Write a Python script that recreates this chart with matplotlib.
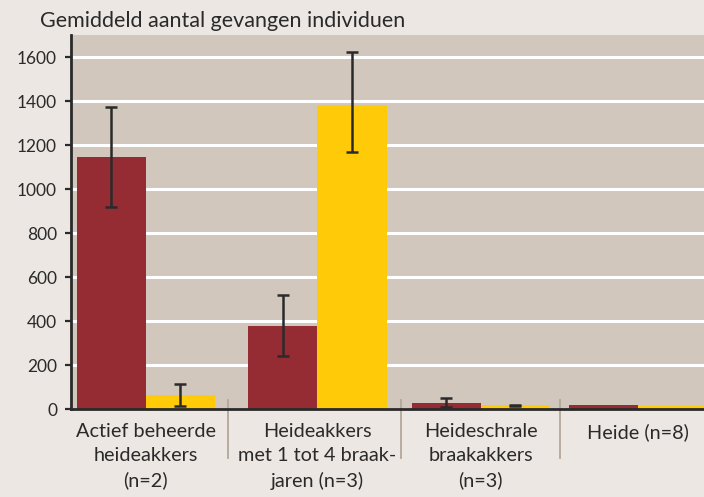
import matplotlib
matplotlib.use("Agg")
import matplotlib.pyplot as plt
import numpy as np

plt.rcParams["font.family"] = ["Lato", "DejaVu Sans"]

# data
categories = [
    "Actief beheerde\nheideakkers\n(n=2)",
    "Heideakkers\nmet 1 tot 4 braak-\njaren (n=3)",
    "Heideschrale\nbraakakkers\n(n=3)",
    "Heide (n=8)",
]
red_values = [1144, 380, 28, 20]
red_err_low = [224, 137, 18, np.nan]
red_err_high = [231, 138, 22, np.nan]
yellow_values = [63, 1384, 18, 16]
yellow_err_low = [50, 217, 1, np.nan]
yellow_err_high = [52, 237, 1, np.nan]
y_ticks = [0, 200, 400, 600, 800, 1000, 1200, 1400, 1600]
title = "Gemiddeld aantal gevangen individuen"

# layout (group centres / separators in bar-width units)
group_pos = np.array([0.0, 2.486, 4.848, 7.123])
sep_pos = [1.19, 3.70, 5.99]
bar_w = 1.0

RED = "#952b33"
YELLOW = "#ffca08"
PLOT_BG = "#d1c7bd"
FIG_BG = "#ece7e3"
DARK = "#2a2a2a"

fig = plt.figure(figsize=(7.04, 4.97), dpi=100, facecolor=FIG_BG)
ax = fig.add_axes([71 / 704, 87.7 / 497, 633 / 704, 374.3 / 497])
ax.set_facecolor(PLOT_BG)

ax.set_xlim(-1.08, 8.08)
ax.set_ylim(0, 1700)

for yt in y_ticks[1:]:
    ax.axhline(yt, color="white", linewidth=2.2, zorder=1)

ax.bar(group_pos - bar_w / 2, red_values, width=bar_w, color=RED, zorder=2)
ax.bar(group_pos + bar_w / 2, yellow_values, width=bar_w, color=YELLOW, zorder=2)

err_kw = dict(fmt="none", ecolor=DARK, elinewidth=1.8, capsize=4, capthick=1.8, zorder=3)
for offset, vals, lo, hi in [(-bar_w / 2, red_values, red_err_low, red_err_high),
                             (bar_w / 2, yellow_values, yellow_err_low, yellow_err_high)]:
    lo = np.array(lo, dtype=float)
    hi = np.array(hi, dtype=float)
    ok = ~np.isnan(lo)
    ax.errorbar((group_pos + offset)[ok], np.array(vals)[ok],
                yerr=[lo[ok], hi[ok]], **err_kw)

for s in sep_pos:
    ax.plot([s, s], [42, -220], color="#b3a799", linewidth=1.3, clip_on=False, zorder=3)

for sp in ["top", "right"]:
    ax.spines[sp].set_visible(False)
ax.spines["left"].set_color(DARK)
ax.spines["left"].set_linewidth(2)
ax.spines["bottom"].set_color(DARK)
ax.spines["bottom"].set_linewidth(2)
ax.spines["bottom"].set_zorder(4)

ax.set_yticks(y_ticks)
ax.set_yticklabels([str(v) for v in y_ticks], fontsize=12.5, color=DARK)
ax.tick_params(axis="y", length=4, width=1.6, color=DARK, pad=6)
ax.set_xticks(group_pos)
ax.set_xticklabels(categories, fontsize=14.3, color=DARK, linespacing=1.5)
ax.tick_params(axis="x", length=0, pad=10)

fig.text(40 / 704, 1 - 27 / 497, title, fontsize=15.5, color=DARK, ha="left", va="baseline")

fig.savefig("out.png", dpi=100, facecolor=FIG_BG)
